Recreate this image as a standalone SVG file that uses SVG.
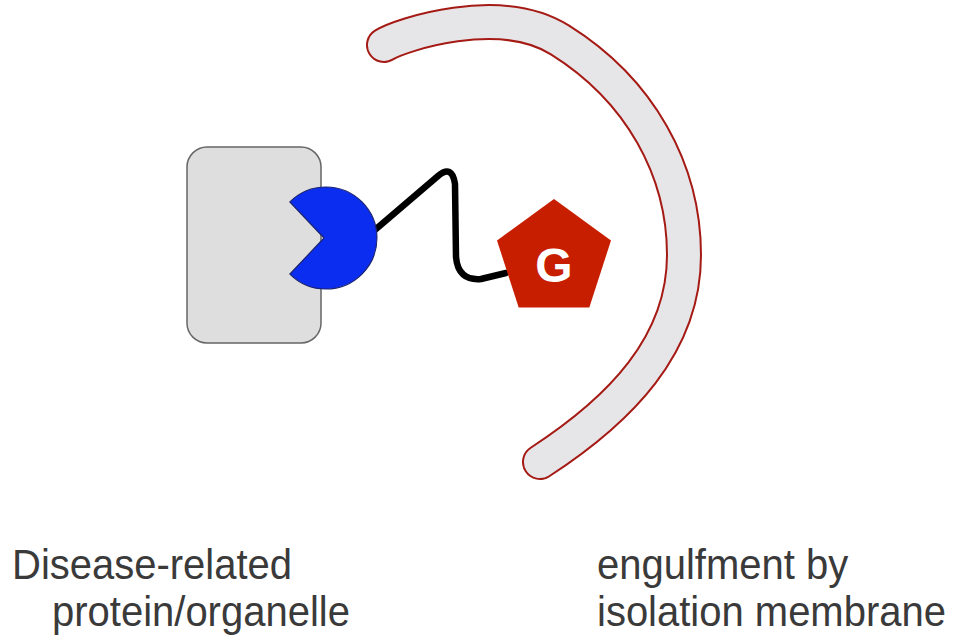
<svg xmlns="http://www.w3.org/2000/svg" width="960" height="635" viewBox="0 0 960 635">
  <style>
    .label { font-family: "Liberation Sans", Arial, sans-serif; font-size: 40px; fill: #3a3a3a; }
    .tag { font-family: "Liberation Sans", Arial, sans-serif; font-size: 48px; font-weight: bold; fill: #ffffff; }
    .membrane-edge { fill: none; stroke: #a51a14; stroke-width: 36; stroke-linecap: round; }
    .membrane-fill { fill: none; stroke: #e6e6e8; stroke-width: 32; stroke-linecap: round; }
  </style>
  <rect width="960" height="635" fill="#ffffff"/>

  <!-- isolation membrane: curved band with a dark red rim -->
  <g id="membrane">
    <path class="membrane-edge" d="M384,45 C400,35 500,2 560,40 C640,90 684,170 684,255 C684,345 620,410 540,462"/>
    <path class="membrane-fill" d="M384,45 C400,35 500,2 560,40 C640,90 684,170 684,255 C684,345 620,410 540,462"/>
  </g>

  <!-- tether linking the binder to the tag -->
  <g id="connectors">
    <path d="M376,229 L438,176 Q452,164 455,184 L456,257 Q458,281 481,279 L506,273" fill="none" stroke="#000000" stroke-width="6.5" stroke-linejoin="round" stroke-linecap="round"/>
  </g>

  <!-- target protein / organelle -->
  <g id="cargo">
    <rect x="187" y="147" width="134" height="196" rx="20" ry="20" fill="#dedede" stroke="#666666" stroke-width="1.5"/>
  </g>

  <!-- binder gripping the cargo -->
  <g id="binder">
    <path d="M324,238 L289.9,201.9 A51,51 0 1 1 289.9,274.1 Z" fill="#0b2df0" stroke="#1a2370" stroke-width="1.2"/>
  </g>

  <!-- degradation tag -->
  <g id="tag">
    <polygon points="554,199 611,240.5 589.3,307.5 518.7,307.5 497,240.5" fill="#c81e00"/>
    <text class="tag" x="554" y="282" text-anchor="middle">G</text>
  </g>

  <!-- captions, drawn slightly tall -->
  <g id="captions">
    <text class="label" transform="translate(12,579) scale(1,1.05)">Disease-related</text>
    <text class="label" transform="translate(52,626) scale(1,1.05)">protein/organelle</text>
    <text class="label" transform="translate(597,579) scale(1,1.05)">engulfment by</text>
    <text class="label" transform="translate(597,626) scale(1,1.05)">isolation membrane</text>
  </g>
</svg>
